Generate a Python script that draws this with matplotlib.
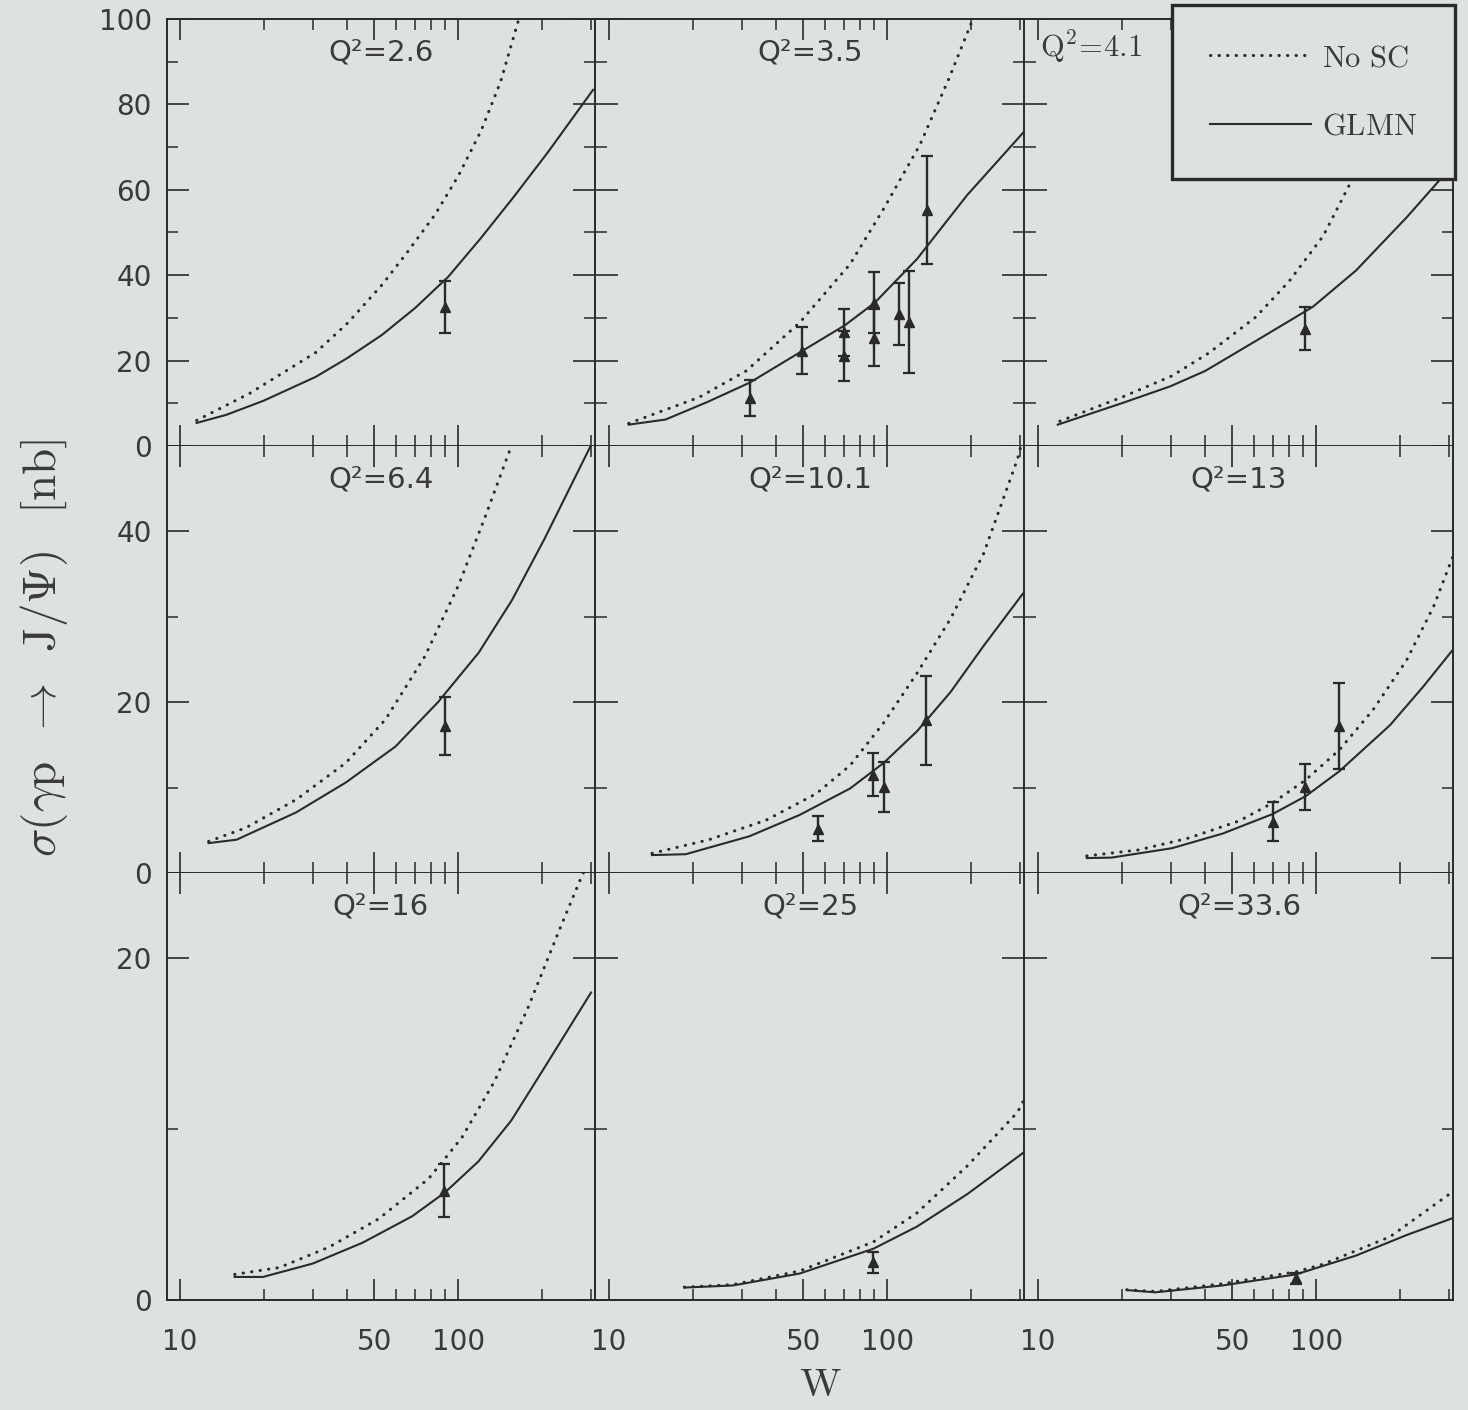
import numpy as np
import matplotlib
matplotlib.use("Agg")
import matplotlib.pyplot as plt
from matplotlib.lines import Line2D

plt.rcParams['mathtext.fontset'] = 'cm'
plt.rcParams['font.family'] = ['DejaVu Sans']

BG = '#dde2de'
INK = '#2a2a2a'
TXT = '#3a3a3a'

# ---------------- data ----------------
q2_labels = ['2.6', '3.5', '4.1', '6.4', '10.1', '13', '16', '25', '33.6']

# GLMN (solid) curves
glmn_W_26 = [11.5, 14.7, 20, 30.8, 40, 53.2, 70, 92, 120, 159, 210, 305]
glmn_S_26 = [5.4, 7.3, 10.6, 16.2, 20.6, 26.0, 32.3, 39.6, 48.5, 58.5, 68.8, 83.4]
glmn_W_35 = [11.8, 16.0, 22.6, 32.0, 48.5, 70.6, 90.4, 128, 194, 310]
glmn_S_35 = [5.0, 6.2, 10.3, 14.8, 21.9, 28.3, 33.6, 43.8, 58.8, 73.6]
glmn_W_41 = [11.8, 20, 30, 40, 60.7, 97.3, 139, 211, 276, 315]
glmn_S_41 = [5.0, 10.0, 14.0, 17.6, 24.6, 32.6, 41.1, 53.5, 62.1, 66.5]
glmn_W_64 = [12.7, 16, 26.2, 39.5, 59.5, 84.6, 118.5, 155.7, 204, 300]
glmn_S_64 = [3.5, 3.9, 7.1, 10.6, 14.8, 20.0, 25.8, 31.9, 39.1, 50.1]
glmn_W_101 = [14.3, 18.9, 32, 48.5, 73.6, 97.2, 128, 169, 222, 307]
glmn_S_101 = [2.1, 2.2, 4.3, 6.8, 9.9, 12.9, 16.6, 21.2, 26.6, 32.7]
glmn_W_13 = [15, 18.4, 30.3, 46, 69.7, 91.7, 121, 184, 242, 316]
glmn_S_13 = [1.75, 1.8, 2.9, 4.6, 6.9, 9.0, 11.9, 17.3, 21.8, 26.5]
glmn_W_16 = [15.75, 19.9, 30, 45.3, 68.3, 89.7, 118, 155, 204, 300]
glmn_S_16 = [1.35, 1.35, 2.13, 3.35, 4.9, 6.3, 8.1, 10.5, 13.6, 18.0]
glmn_W_25 = [18.7, 27.9, 48.5, 89.2, 128, 194, 307]
glmn_S_25 = [0.73, 0.85, 1.55, 3.0, 4.3, 6.2, 8.6]
glmn_W_336 = [20.9, 26.4, 46, 84.6, 139, 211, 316]
glmn_S_336 = [0.58, 0.45, 0.85, 1.5, 2.6, 3.8, 4.85]

# No SC (dotted) curves
nosc_W_26 = [11.5, 17.8, 30.8, 40.1, 53.2, 65, 82.6, 100, 121, 142, 166]
nosc_S_26 = [6.0, 12.3, 21.9, 28.8, 37.7, 45.0, 54.2, 63.2, 73.9, 85.3, 100.5]
nosc_W_35 = [11.8, 21.1, 31.2, 48.5, 73.6, 97.2, 131, 167, 204]
nosc_S_35 = [5.3, 11.4, 17.6, 28.9, 42.6, 55.6, 70.5, 86.2, 100.3]
nosc_W_41 = [12, 20, 30.3, 41.2, 60.7, 80, 106, 132, 140]
nosc_S_41 = [5.8, 11.4, 16.4, 21.8, 30.2, 38.6, 49.2, 61.3, 64.0]
nosc_W_64 = [12.7, 17.3, 26.2, 39.5, 54.9, 76, 100.3, 125, 156]
nosc_S_64 = [3.7, 5.3, 8.6, 12.9, 18.0, 25.4, 33.7, 41.7, 50.2]
nosc_W_101 = [14.3, 22.9, 36.8, 55.7, 73.6, 97.2, 128, 169, 222, 294, 305]
nosc_S_101 = [2.3, 3.9, 6.2, 9.3, 12.6, 17.6, 23.4, 29.8, 37.4, 48.5, 50.5]
nosc_W_13 = [15, 23, 34.9, 52.9, 69.7, 91.7, 121, 160, 211, 264, 316]
nosc_S_13 = [2.0, 2.7, 4.1, 6.1, 8.2, 10.9, 14.4, 19.1, 24.9, 31.2, 37.8]
nosc_W_16 = [15.75, 22.8, 34.4, 51.9, 78.3, 103, 135, 178, 234, 276, 285]
nosc_S_16 = [1.5, 1.9, 3.1, 4.76, 7.1, 9.5, 12.8, 17.1, 21.9, 24.7, 25.2]
nosc_W_25 = [18.7, 27.9, 48.5, 89.2, 128, 194, 294, 307]
nosc_S_25 = [0.75, 0.9, 1.7, 3.4, 5.1, 7.85, 11.0, 11.6]
nosc_W_336 = [20.9, 26.4, 46, 84.6, 106, 184, 313]
nosc_S_336 = [0.6, 0.5, 0.95, 1.65, 2.1, 3.7, 6.4]

# measured points
data_W_26, data_S_26, data_E_26 = [90], [32.6], [6.1]
data_W_35 = [32.2, 49.6, 70, 70, 89.8, 89.8, 110, 120, 139]
data_S_35 = [11.3, 22.3, 26.6, 21.1, 33.6, 25.4, 30.9, 29.1, 55.2]
data_E_35 = [4.2, 5.5, 5.6, 5.9, 7.1, 6.6, 7.3, 12.0, 12.6]
data_W_41, data_S_41, data_E_41 = [91], [27.5], [5.0]
data_W_64, data_S_64, data_E_64 = [90], [17.2], [3.4]
data_W_101 = [56.5, 89.2, 97.2, 138.4]
data_S_101 = [5.2, 11.5, 10.1, 17.9]
data_E_101 = [1.5, 2.5, 2.9, 5.2]
data_W_13 = [69.7, 90.9, 121]
data_S_13 = [6.0, 10.1, 17.2]
data_E_13 = [2.3, 2.7, 5.0]
data_W_16, data_S_16, data_E_16 = [88.6], [6.4], [1.55]
data_W_25, data_S_25, data_E_25 = [89], [2.2], [0.6]
data_W_336, data_S_336, data_E_336 = [84.6], [1.26], [0.35]

glmn = [(glmn_W_26, glmn_S_26), (glmn_W_35, glmn_S_35), (glmn_W_41, glmn_S_41),
        (glmn_W_64, glmn_S_64), (glmn_W_101, glmn_S_101), (glmn_W_13, glmn_S_13),
        (glmn_W_16, glmn_S_16), (glmn_W_25, glmn_S_25), (glmn_W_336, glmn_S_336)]
nosc = [(nosc_W_26, nosc_S_26), (nosc_W_35, nosc_S_35), (nosc_W_41, nosc_S_41),
        (nosc_W_64, nosc_S_64), (nosc_W_101, nosc_S_101), (nosc_W_13, nosc_S_13),
        (nosc_W_16, nosc_S_16), (nosc_W_25, nosc_S_25), (nosc_W_336, nosc_S_336)]
meas = [(data_W_26, data_S_26, data_E_26), (data_W_35, data_S_35, data_E_35),
        (data_W_41, data_S_41, data_E_41), (data_W_64, data_S_64, data_E_64),
        (data_W_101, data_S_101, data_E_101), (data_W_13, data_S_13, data_E_13),
        (data_W_16, data_S_16, data_E_16), (data_W_25, data_S_25, data_E_25),
        (data_W_336, data_S_336, data_E_336)]

row_ymax = [100, 50, 25]
x_major = [10, 50, 100]
x_major_labels = ['10', '50', '100']
x_minor = [20, 30, 40, 60, 70, 80, 90, 200, 300]

# ---------------- layout ----------------
FW, FH = 1468, 1410
fig = plt.figure(figsize=(FW / 100, FH / 100), dpi=100, facecolor=BG)
col_left = [167, 596, 1025]
col_w = 428
row_top = [19, 446, 873]
row_h = 427

DOT = (0, (0.1, 2.7))
DOT_LW = 2.2

for i in range(9):
    r, c = divmod(i, 3)
    ax = fig.add_axes([col_left[c] / FW, 1 - (row_top[r] + row_h) / FH,
                       col_w / FW, row_h / FH])
    ax.set_facecolor(BG)
    ax.set_xscale('log')
    ax.set_xlim(9.0, 310)
    ymax = row_ymax[r]
    ax.set_ylim(0, ymax)

    ax.plot(nosc[i][0], nosc[i][1], color=INK, lw=DOT_LW, linestyle=DOT,
            dash_capstyle='round')
    ax.plot(glmn[i][0], glmn[i][1], color=INK, lw=1.5)
    ax.errorbar(meas[i][0], meas[i][1], yerr=meas[i][2], fmt='^', color=INK,
                ms=6.5, capsize=4.3, elinewidth=1.7, capthick=1.6)

    ax.set_xticks(x_major)
    ax.set_xticks(x_minor, minor=True)
    ax.set_xticklabels(x_major_labels)
    ax.set_xticklabels([], minor=True)
    ax.set_yticks(np.arange(0, ymax + 1, 20))
    ax.set_yticks(np.arange(10, ymax, 20), minor=True)

    ax.tick_params(axis='both', which='both', direction='in', top=True,
                   right=True, color=INK, labelcolor=TXT, labelsize=20)
    ax.tick_params(axis='x', which='major', length=15, width=1.2, pad=20,
                   labelbottom=(r == 2))
    ax.tick_params(axis='x', which='minor', length=8, width=1.1)
    ax.tick_params(axis='y', which='major', length=16, width=1.2, pad=11,
                   labelleft=(c == 0))
    ax.tick_params(axis='y', which='minor', length=8, width=1.1)
    for s in ax.spines.values():
        s.set_color(INK)
        s.set_linewidth(1.4)
    if c > 0:
        ax.spines['left'].set_visible(False)
    if r > 0:
        ax.spines['top'].set_visible(False)

    if i == 2:
        ax.text(0.035, 0.934, r'$\mathrm{Q^2\!=\!4.1}$', transform=ax.transAxes,
                ha='left', va='center', fontsize=22, color=TXT)
    else:
        ax.text(0.5, 0.921, 'Q²=' + q2_labels[i], transform=ax.transAxes,
                ha='center', va='center', fontsize=21, color=TXT)

# legend
handles = [Line2D([], [], color=INK, lw=DOT_LW, linestyle=DOT, dash_capstyle='round'),
           Line2D([], [], color=INK, lw=1.5)]
leg = fig.legend(handles, [r'$\mathrm{No\ SC}$', r'$\mathrm{GLMN}$'],
                 loc='upper right', bbox_to_anchor=(1455 / FW, 1 - 5 / FH),
                 bbox_transform=fig.transFigure, frameon=True, fancybox=False,
                 fontsize=22, handlelength=3.3, handletextpad=0.35,
                 borderpad=1.25, labelspacing=1.3, borderaxespad=0)
fr = leg.get_frame()
fr.set_edgecolor(INK)
fr.set_linewidth(2.4)
fr.set_facecolor(BG)
fr.set_alpha(1)
for t in leg.get_texts():
    t.set_color(TXT)

# axis labels
fig.text(44 / FW, 1 - 648 / FH,
         r'$\sigma(\gamma\mathrm{p}\;\;\rightarrow\;\;\mathrm{J}/\Psi)\;\;\;[\mathrm{nb}]$',
         rotation=90, ha='center', va='center', fontsize=34, color=TXT)
fig.text(820 / FW, 1 - 1385 / FH, r'$\mathrm{W}$', ha='center', va='center',
         fontsize=29, color=TXT)

fig.savefig('out.png', dpi=100, facecolor=BG)
